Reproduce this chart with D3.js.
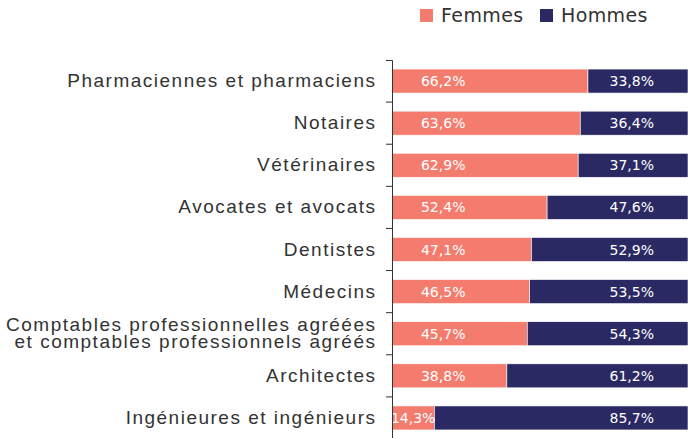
<!DOCTYPE html>
<html>
<head>
<meta charset="utf-8">
<script src="https://cdn.jsdelivr.net/npm/d3@7"></script>
<style>
  body { margin: 0; background: #fff; }
  svg { font-family: "DejaVu Sans", sans-serif; }
</style>
</head>
<body>
<svg width="690" height="438"></svg>
<script>
let categories = [
    "Pharmaciennes et pharmaciens",
    "Notaires",
    "Vétérinaires",
    "Avocates et avocats",
    "Dentistes",
    "Médecins",
    "Comptables professionnelles agréées|et comptables professionnels agréés",
    "Architectes",
    "Ingénieures et ingénieurs"
];
let femmes = [66.2, 63.6, 62.9, 52.4, 47.1, 46.5, 45.7, 38.8, 14.3];
let hommes = [33.8, 36.4, 37.1, 47.6, 52.9, 53.5, 54.3, 61.2, 85.7];
let seriesNames = ["Femmes", "Hommes"];

let svg = d3.select("svg");
let color = d3.scaleOrdinal(seriesNames, ["#f47c6e", "#2b2963"]);
let fmt = (v) => d3.format(".1f")(v).replace(".", ",") + "%";

let rows = categories.map((c, i) => ({ cat: c, Femmes: femmes[i], Hommes: hommes[i] }));
let stacked = d3.stack().keys(seriesNames)(rows);

let x = d3.scaleLinear().domain([0, 100]).range([392, 688]);
let y = d3.scaleBand().domain(categories).range([60, 439]).paddingInner(0.43).paddingOuter(0.215);

// bars
let layer = svg
    .append("g")
    .selectAll("g")
    .data(stacked)
    .enter()
    .append("g")
    .attr("fill", (d) => color(d.key));

layer
    .selectAll("rect")
    .data((d) => d)
    .enter()
    .append("rect")
    .attr("x", (d) => x(d[0]))
    .attr("y", (d) => y(d.data.cat))
    .attr("width", (d) => x(d[1]) - x(d[0]))
    .attr("height", y.bandwidth())
    .attr("stroke", "#fff")
    .attr("stroke-width", 0.6);

// value labels
let labels = svg.append("g").attr("fill", "#fff").attr("font-size", 14).attr("text-anchor", "middle");
labels
    .selectAll("text.f")
    .data(rows)
    .enter()
    .append("text")
    .attr("x", (d) => x(Math.min(d.Femmes / 2, 17.3)))
    .attr("y", (d) => y(d.cat) + y.bandwidth() / 2 + 5)
    .text((d) => fmt(d.Femmes));
labels
    .selectAll("text.h")
    .data(rows)
    .enter()
    .append("text")
    .attr("x", x(81))
    .attr("y", (d) => y(d.cat) + y.bandwidth() / 2 + 5)
    .text((d) => fmt(d.Hommes));

// axis: domain line with outer ticks, ticks between bands
let axis = svg
    .append("g")
    .attr("transform", `translate(${x(0)},0)`)
    .call(d3.axisLeft(y).tickSize(0).tickSizeOuter(6).tickPadding(16).tickFormat(() => ""));
axis.select(".domain").attr("stroke", "#333");
let gap = y.step() * y.paddingInner() / 2;
axis.selectAll("line.sep")
    .data(categories.slice(1))
    .enter()
    .append("line")
    .attr("class", "sep")
    .attr("x1", -6)
    .attr("x2", 0)
    .attr("y1", (d) => y(d) - gap)
    .attr("y2", (d) => y(d) - gap)
    .attr("stroke", "#333");

axis.selectAll(".tick text").each(function (d) {
    let t = d3.select(this);
    let parts = d.split("|");
    t.text(null)
        .attr("fill", "#333")
        .attr("font-size", 19)
        .attr("letter-spacing", 1.5)
        .attr("dy", null);
    parts.forEach((p, i) => {
        t.append("tspan")
            .attr("x", -15.5)
            .attr("y", (i - (parts.length - 1) / 2) * 17 + 6)
            .text(p);
    });
});

// legend
let legend = svg
    .append("g")
    .selectAll("g")
    .data(seriesNames)
    .enter()
    .append("g")
    .attr("transform", (d, i) => `translate(${[420, 540][i]},9)`);
legend.append("rect").attr("width", 13).attr("height", 13).attr("fill", (d) => color(d));
legend
    .append("text")
    .attr("x", 21)
    .attr("y", 13)
    .attr("font-size", 19)
    .attr("letter-spacing", 0.4)
    .attr("fill", "#333")
    .text((d) => d);
</script>
</body>
</html>
